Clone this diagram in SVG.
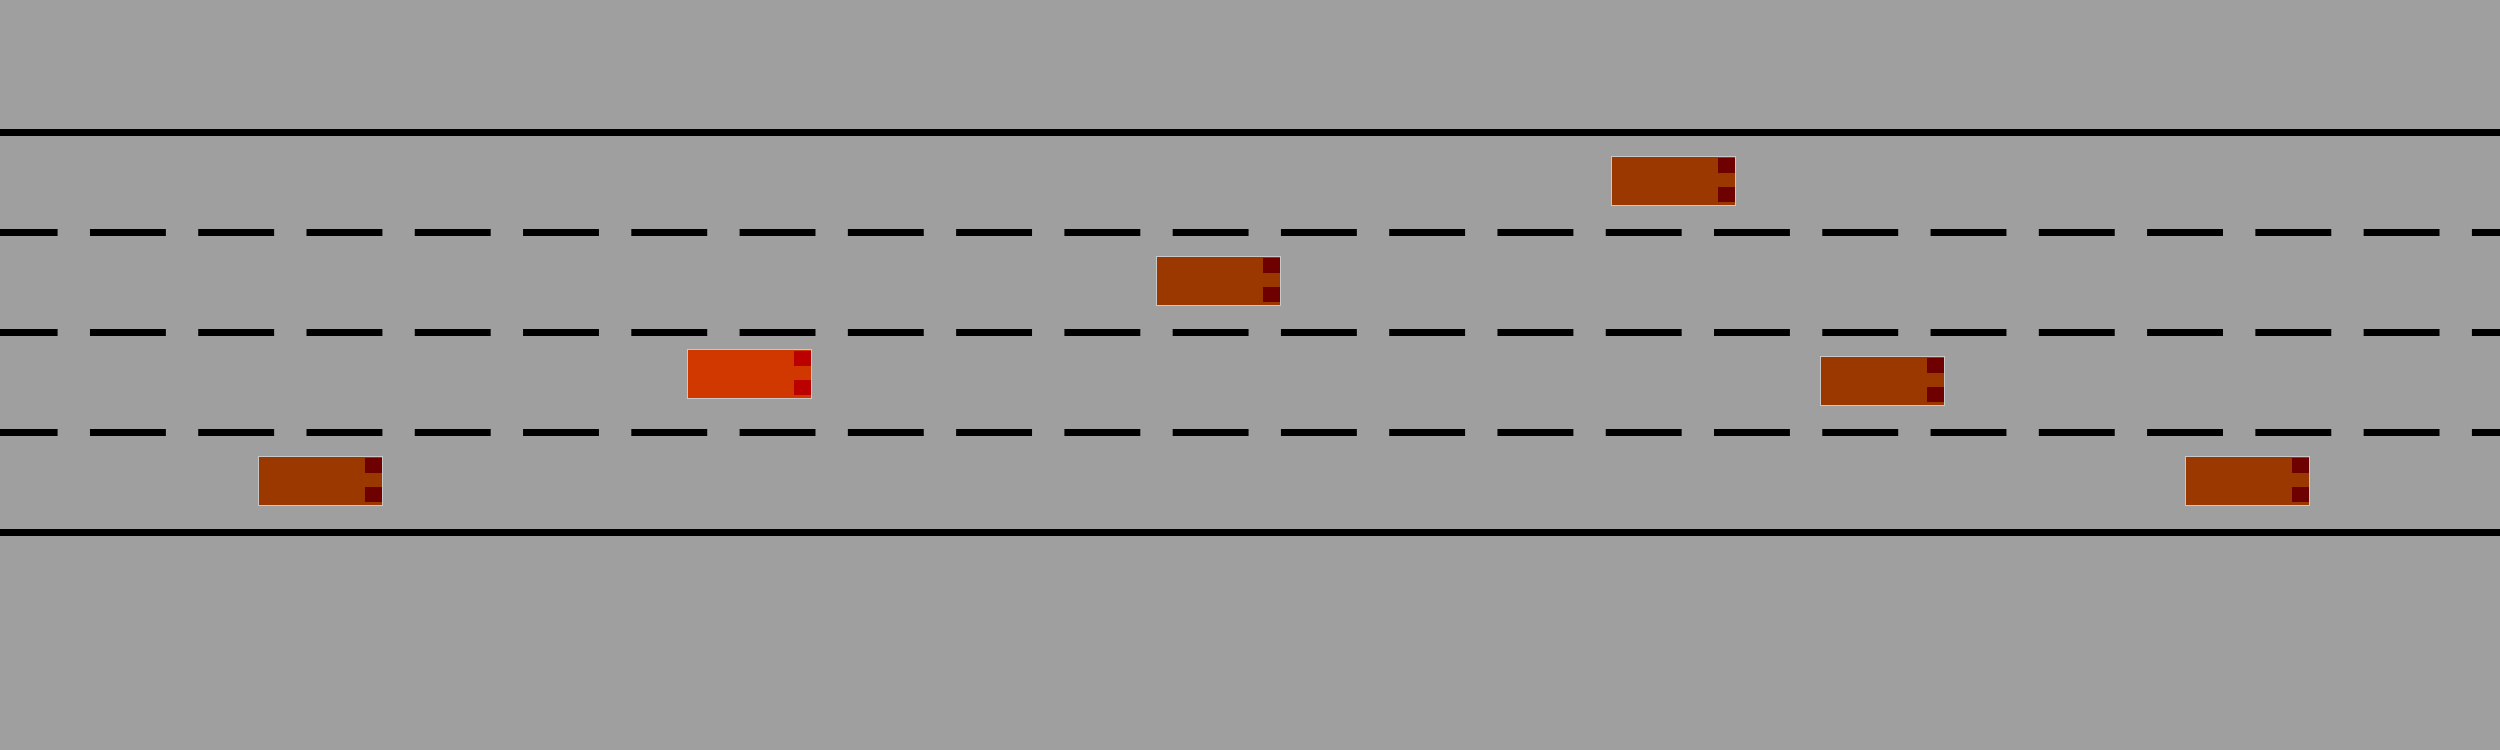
<svg xmlns="http://www.w3.org/2000/svg" width="2500" height="750" viewBox="0 0 2500 750">
<style>
.solid{stroke:#000;stroke-width:7;fill:none}
.dash{stroke:#000;stroke-width:7;fill:none;stroke-dasharray:75.9 32.37;stroke-dashoffset:18.3}
.body{fill:#9a3800;stroke:#c8c8c8;stroke-width:1}
.light{fill:#6e0000}
.ego .body{fill:#d03800}
.ego .light{fill:#bb0000}
</style>
<defs>
<g id="car">
<rect class="body" x="0.5" y="0.5" width="124" height="49"/>
<rect class="light" x="107" y="2" width="17" height="15"/>
<rect class="light" x="107" y="31" width="17" height="15"/>
</g>
</defs>
<rect width="2500" height="750" fill="#9f9f9f"/>
<g id="road">
<line class="solid" x1="0" y1="132.5" x2="2500" y2="132.5"/>
<line class="dash" x1="0" y1="232.5" x2="2500" y2="232.5"/>
<line class="dash" x1="0" y1="332.5" x2="2500" y2="332.5"/>
<line class="dash" x1="0" y1="432.5" x2="2500" y2="432.5"/>
<line class="solid" x1="0" y1="532.5" x2="2500" y2="532.5"/>
</g>
<g id="car1" transform="translate(1611,156)"><use href="#car"/></g>
<g id="car2" transform="translate(1156,256)"><use href="#car"/></g>
<g id="ego" class="ego" transform="translate(687,349)">
<rect class="body" x="0.5" y="0.5" width="124" height="49"/>
<rect class="light" x="107" y="2" width="17" height="15"/>
<rect class="light" x="107" y="31" width="17" height="15"/>
</g>
<g id="car4" transform="translate(1820,356)"><use href="#car"/></g>
<g id="car5" transform="translate(258,456)"><use href="#car"/></g>
<g id="car6" transform="translate(2185,456)"><use href="#car"/></g>
</svg>
